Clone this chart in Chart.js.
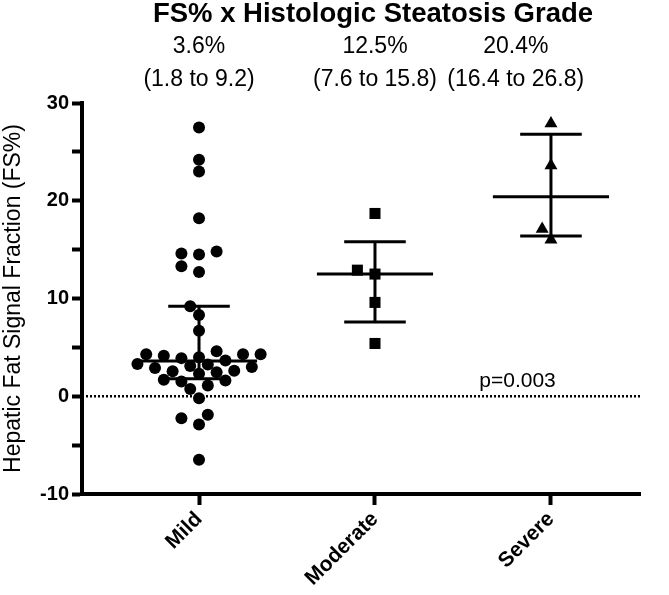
<!DOCTYPE html>
<html>
<head>
<meta charset="utf-8">
<script src="https://cdn.jsdelivr.net/npm/chart.js@4"></script>
<style>
  html, body { margin: 0; padding: 0; background: #fff; }
  #wrap { width: 669px; height: 595px; position: relative; }
</style>
</head>
<body>
<div id="wrap"><canvas id="fsChart"></canvas></div>
<script>
// FS% by histologic steatosis grade - scatter dot plot with median and 95% CI
const categories = ['Mild', 'Moderate', 'Severe'];

const mildValues = [
  27.5, 24.2, 23.0, 18.2, 14.8, 14.6, 14.5, 13.3, 12.7, 9.2, 8.3, 6.7,
  4.6, 4.3, 4.3, 4.3, 4.15, 4.0, 3.9, 3.65, 3.3, 3.25, 3.1, 3.0, 2.9,
  2.6, 2.55, 2.45, 2.3, 1.7, 1.6, 1.5, 1.1, 0.75, -0.2, -1.9, -2.25, -2.9, -6.5
];
const moderateValues = [18.7, 12.9, 12.5, 9.6, 5.4];
const severeValues = [27.9, 23.6, 17.1, 16.0];

const medians = [3.6, 12.5, 20.4];
const ciLow = [1.8, 7.6, 16.4];
const ciHigh = [9.2, 15.8, 26.8];

const yTickValues = [-10, 0, 10, 20, 30];
const chartTitle = 'FS% x Histologic Steatosis Grade';
const yTitle = 'Hepatic Fat Signal Fraction (FS%)';
const pValueText = 'p=0.003';

(function () {
  'use strict';

  const FONT = '"Liberation Sans", Arial, sans-serif';
  const X_MIN = -0.665, X_MAX = 2.506;
  const MEDIAN_HALF = 0.33, CI_HALF = 0.175;
  const LABEL_X = [0, 1, 1.8];   // where the median / CI captions sit (category units)
  const SWARM_STEP = 8.8;        // px between swarm columns
  const MIN_GAP = 11.2;          // px between point centres

  const groups = [mildValues, moderateValues, severeValues];
  const shapes = [
    { style: 'circle', radius: 6 },
    { style: 'rect', radius: 7.8 },
    { style: 'triangle', radius: 7.5 }
  ];

  function seg(x1, y1, x2, y2) {
    return {
      type: 'scatter', showLine: true, data: [{ x: x1, y: y1 }, { x: x2, y: y2 }],
      borderColor: '#000', borderWidth: 3, pointRadius: 0, pointHoverRadius: 0,
      borderCapStyle: 'butt'
    };
  }

  const datasets = [];
  // dotted zero reference line
  const zero = seg(X_MIN, 0, X_MAX, 0);
  zero.borderDash = [2, 2];
  zero.borderWidth = 2.5;
  datasets.push(zero);

  groups.forEach((vals, gi) => {
    datasets.push({
      type: 'scatter',
      data: vals.map(v => ({ x: gi, y: v })),
      backgroundColor: '#000', borderColor: '#000', borderWidth: 0,
      pointStyle: shapes[gi].style, pointRadius: shapes[gi].radius,
      pointHoverRadius: shapes[gi].radius
    });
  });

  categories.forEach((c, i) => {
    datasets.push(seg(i - MEDIAN_HALF, medians[i], i + MEDIAN_HALF, medians[i]));
    datasets.push(seg(i - CI_HALF, ciLow[i], i + CI_HALF, ciLow[i]));
    datasets.push(seg(i - CI_HALF, ciHigh[i], i + CI_HALF, ciHigh[i]));
    datasets.push(seg(i, ciLow[i], i, ciHigh[i]));
  });

  const textPlugin = {
    id: 'fsText',
    afterDraw(chart) {
      const ctx = chart.ctx;
      const xs = chart.scales.x, ys = chart.scales.y;
      ctx.save();
      ctx.fillStyle = '#000';
      ctx.textAlign = 'center';
      ctx.textBaseline = 'middle';
      ctx.font = 'bold 27.5px ' + FONT;
      ctx.fillText(chartTitle, 373, 14);
      ctx.font = '23px ' + FONT;
      categories.forEach((c, i) => {
        const x = xs.getPixelForValue(LABEL_X[i]);
        ctx.fillText(medians[i].toFixed(1) + '%', x, 47);
        ctx.fillText('(' + ciLow[i].toFixed(1) + ' to ' + ciHigh[i].toFixed(1) + ')', x, 80);
      });
      ctx.font = '21px ' + FONT;
      ctx.fillText(pValueText, xs.getPixelForValue(1.81), ys.getPixelForValue(1.5));
      ctx.restore();
    }
  };

  // simple beeswarm: nudge each point sideways until it clears the ones already placed
  function swarm(chart) {
    const xs = chart.scales.x, ys = chart.scales.y;
    groups.forEach((vals, gi) => {
      const ds = chart.data.datasets[1 + gi];
      const cx = xs.getPixelForValue(gi);
      const placed = [];
      const order = vals.map((v, i) => i).sort((a, b) => vals[a] - vals[b]);
      order.forEach(i => {
        const py = ys.getPixelForValue(vals[i]);
        let px = cx;
        for (let k = 0; k < 60; k++) {
          const cand = cx + (k % 2 ? -1 : 1) * Math.ceil(k / 2) * SWARM_STEP;
          if (placed.every(p => Math.hypot(p.x - cand, p.y - py) >= MIN_GAP)) { px = cand; break; }
        }
        placed.push({ x: px, y: py });
        ds.data[i].x = xs.getValueForPixel(px);
      });
    });
    chart.update('none');
  }

  const chart = new Chart(document.getElementById('fsChart'), {
    type: 'scatter',
    data: { datasets },
    plugins: [textPlugin],
    options: {
      responsive: true,
      maintainAspectRatio: false,
      animation: false,
      events: [],
      layout: { padding: { top: 103, right: 29, left: 0, bottom: 0 } },
      plugins: { legend: { display: false }, tooltip: { enabled: false }, title: { display: false } },
      scales: {
        x: {
          type: 'linear', min: X_MIN, max: X_MAX,
          afterBuildTicks: s => { s.ticks = categories.map((c, i) => ({ value: i })); },
          afterFit: s => { s.height = 101; },
          ticks: {
            callback: v => categories[v] || '',
            autoSkip: false, minRotation: 45, maxRotation: 45, padding: 2,
            color: '#000', font: { family: FONT, size: 21, weight: 'bold' }
          },
          grid: { drawOnChartArea: false, drawTicks: true, tickLength: 11, tickWidth: 4, color: '#000' },
          border: { display: true, color: '#000', width: 4 }
        },
        y: {
          min: -10, max: 30,
          afterBuildTicks: s => {
            const t = [];
            for (let v = -10; v <= 30; v += 5) t.push({ value: v });
            s.ticks = t;
          },
          afterFit: s => { s.width = 82; },
          ticks: {
            callback: v => yTickValues.includes(v) ? String(v) : '',
            padding: 3, color: '#000', font: { family: FONT, size: 20, weight: 'bold' }
          },
          grid: { drawOnChartArea: false, drawTicks: true, tickLength: 10, tickWidth: 4, color: '#000' },
          border: { display: true, color: '#000', width: 4 },
          title: {
            display: true, text: yTitle, color: '#000', padding: 0,
            font: { family: FONT, size: 23, weight: 'normal' }
          }
        }
      }
    }
  });

  swarm(chart);
})();
</script>
</body>
</html>
